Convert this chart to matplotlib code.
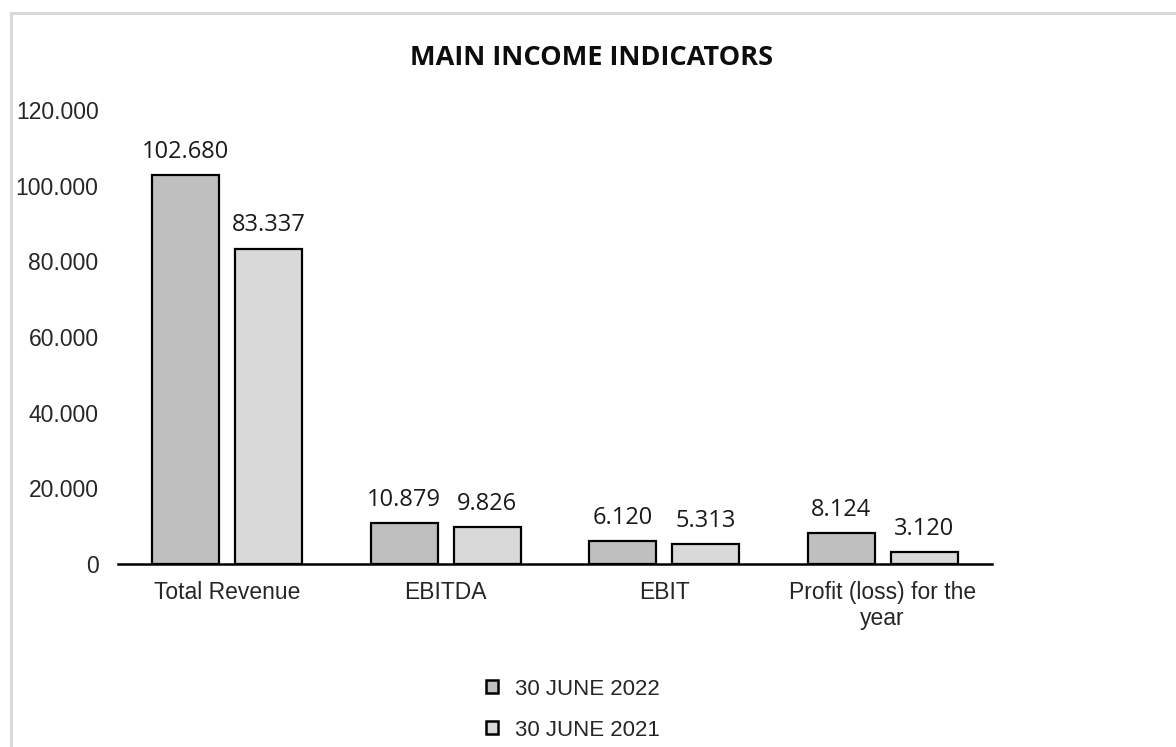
import matplotlib.pyplot as plt
import numpy as np
from matplotlib.patches import Patch, Rectangle
from matplotlib.ticker import FuncFormatter

categories = ["Total Revenue", "EBITDA", "EBIT", "Profit (loss) for the\nyear"]
values_2022 = [102680, 10879, 6120, 8124]
values_2021 = [83337, 9826, 5313, 3120]
series_labels = ["30 JUNE 2022", "30 JUNE 2021"]
yticks = [0, 20000, 40000, 60000, 80000, 100000, 120000]

ARIAL = "Liberation Sans"
LABEL_FONT = "Open Sans"
C22 = "#bfbfbf"
C21 = "#d9d9d9"


def dotted(v):
    # thousands separator as a dot
    return f"{int(v):,}".replace(",", ".")


fig = plt.figure(figsize=(11.76, 7.47), dpi=100)
fig.patches.append(Rectangle((11 / 1176, -0.1), 1.2, 1.1 - 13 / 747,
                             transform=fig.transFigure, fill=False,
                             edgecolor="#d9d9d9", linewidth=2.2))

ax = fig.add_axes([0.1003, 0.245, 0.7432, 0.608])

x = np.arange(len(categories))
w = 0.305
off = 0.19
b1 = ax.bar(x - off, values_2022, w, color=C22, edgecolor="black", linewidth=1.6)
b2 = ax.bar(x + off, values_2021, w, color=C21, edgecolor="black", linewidth=1.6)

for bars in (b1, b2):
    for rect in bars:
        h = rect.get_height()
        ax.annotate(dotted(h), (rect.get_x() + rect.get_width() / 2, h),
                    xytext=(0, 8), textcoords="offset points",
                    ha="center", va="bottom", fontsize=17,
                    family=LABEL_FONT, color="#1a1a1a")

ax.set_xlim(-0.5, len(categories) - 0.5)
ax.set_ylim(0, 120000)
ax.set_yticks(yticks)
ax.yaxis.set_major_formatter(FuncFormatter(lambda v, p: dotted(v)))
ax.set_xticks(x)
ax.set_xticklabels(categories, family=ARIAL, fontsize=16.5, color="#262626")
ax.tick_params(axis="y", length=0, pad=14, labelsize=16.5, labelcolor="#262626")
ax.tick_params(axis="x", length=0, pad=12)
for lbl in ax.get_yticklabels():
    lbl.set_family(ARIAL)

for s in ("top", "right", "left"):
    ax.spines[s].set_visible(False)
ax.spines["bottom"].set_linewidth(1.8)
ax.spines["bottom"].set_color("black")

fig.text(0.503, 0.923, "MAIN INCOME INDICATORS", ha="center", va="center",
         fontsize=19.5, fontweight="bold", family=LABEL_FONT, color="#0d0d0d")

handles = [Patch(facecolor=C22, edgecolor="black", linewidth=1.8),
           Patch(facecolor=C21, edgecolor="black", linewidth=1.8)]
fig.legend(handles, series_labels, loc="center", bbox_to_anchor=(0.487, 0.05),
           ncol=1, frameon=False, handlelength=0.55, handleheight=0.55,
           handletextpad=0.75, labelspacing=0.9,
           prop={"family": ARIAL, "size": 16}, labelcolor="#262626")

fig.savefig("out.png", dpi=100, facecolor="white")
